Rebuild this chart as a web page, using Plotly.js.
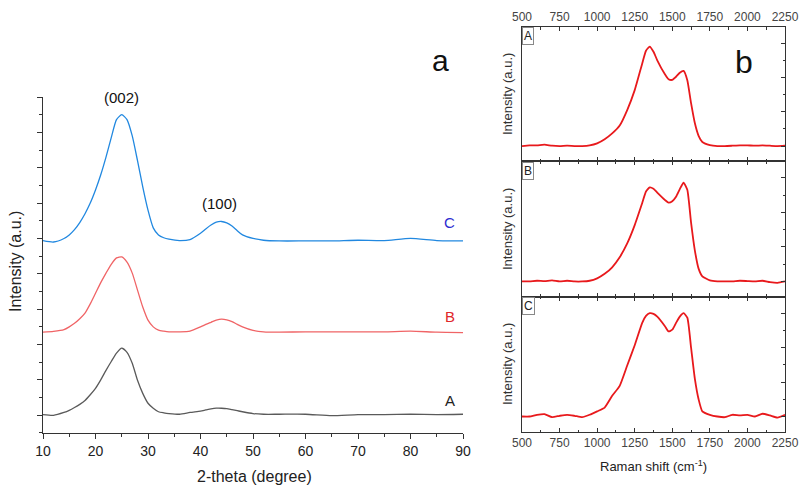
<!DOCTYPE html>
<html>
<head>
<meta charset="utf-8">
<script src="https://cdn.plot.ly/plotly-3.0.1.min.js"></script>
<style>
  html, body { margin: 0; padding: 0; background: #fff; }
  #chart { width: 800px; height: 486px; }
</style>
</head>
<body>
<div id="chart"></div>
<script>
// ----------------------- XRD data (panel a) -----------------------------------
var xrdX = [10, 12, 14, 15, 16, 17, 18, 19, 20, 21, 22, 23, 24, 25, 26, 27, 28, 29, 30,
  31, 32, 33, 34, 36, 38, 40, 41, 42, 43, 44, 45, 46, 47, 48, 50, 52, 55, 60, 65, 70,
  75, 80, 85, 90];
var xrdA = [0.02, 0.0, 0.08, 0.14, 0.22, 0.31, 0.42, 0.58, 0.76, 1.0, 1.27, 1.52, 1.76,
  1.9, 1.78, 1.47, 0.99, 0.62, 0.34, 0.2, 0.1, 0.07, 0.05, 0.03, 0.08, 0.12, 0.15, 0.18,
  0.2, 0.2, 0.19, 0.16, 0.13, 0.1, 0.05, 0.03, 0.03, 0.03, -0.01, 0.02, 0.02, 0.03, 0.02, 0.03];
var xrdB = [2.35, 2.37, 2.42, 2.5, 2.6, 2.73, 2.89, 3.15, 3.45, 3.75, 4.02, 4.27, 4.45,
  4.48, 4.33, 4.02, 3.54, 3.06, 2.69, 2.5, 2.41, 2.38, 2.36, 2.36, 2.38, 2.5, 2.57, 2.63,
  2.69, 2.72, 2.7, 2.65, 2.57, 2.5, 2.4, 2.36, 2.35, 2.36, 2.36, 2.36, 2.36, 2.38, 2.35, 2.34];
var xrdC = [4.94, 4.9, 5.0, 5.1, 5.25, 5.45, 5.7, 6.0, 6.37, 6.8, 7.3, 7.85, 8.36, 8.5,
  8.36, 7.9, 7.2, 6.46, 5.8, 5.3, 5.1, 5.02, 4.98, 4.94, 4.97, 5.15, 5.27, 5.38, 5.46,
  5.48, 5.44, 5.35, 5.22, 5.1, 5.0, 4.95, 4.93, 4.93, 4.93, 4.95, 4.94, 5.0, 4.94, 4.93];
var xrdTicks = [10, 20, 30, 40, 50, 60, 70, 80, 90];
// =============================================================================

// ----------------------- Raman data (panel b) ---------------------------------
var ramanX = [500, 550, 600, 650, 700, 750, 800, 850, 900, 950, 1000, 1050, 1100, 1150,
  1200, 1250, 1300, 1325, 1350, 1375, 1400, 1450, 1475, 1500, 1525, 1550, 1575, 1600,
  1625, 1650, 1675, 1700, 1750, 1800, 1850, 1900, 1950, 2000, 2050, 2100, 2150, 2200, 2250];
var ramanA = [0.0, 0.02, 0.02, 0.04, 0.01, 0.0, 0.01, 0.0, 0.0, 0.02, 0.08, 0.2, 0.37,
  0.6, 1.05, 1.63, 2.41, 2.78, 2.9, 2.75, 2.5, 2.1, 1.95, 1.93, 2.02, 2.14, 2.19, 1.92,
  1.25, 0.67, 0.3, 0.12, 0.03, 0.0, 0.0, 0.01, 0.02, 0.02, 0.01, 0.02, 0.01, 0.0, 0.01];
var ramanB = [0.0, 0.0, 0.02, 0.01, 0.03, 0.0, 0.02, 0.0, 0.0, 0.02, 0.09, 0.22, 0.41,
  0.7, 1.1, 1.63, 2.27, 2.6, 2.72, 2.68, 2.57, 2.36, 2.28, 2.32, 2.45, 2.67, 2.86, 2.65,
  1.7, 0.9, 0.37, 0.15, 0.03, 0.0, 0.0, 0.0, 0.02, 0.01, 0.0, 0.02, -0.02, -0.04, 0.0];
var ramanC = [0.0, 0.0, 0.05, 0.07, -0.02, 0.02, 0.05, 0.02, -0.02, 0.05, 0.15, 0.26, 0.6,
  0.89, 1.48, 2.07, 2.72, 2.92, 3.0, 2.98, 2.9, 2.63, 2.47, 2.52, 2.72, 2.9, 3.0, 2.87,
  2.0, 1.1, 0.5, 0.15, 0.05, 0.0, -0.02, 0.05, 0.03, 0.05, 0.0, 0.08, 0.03, -0.03, 0.05];
var ramanTicks = [500, 750, 1000, 1250, 1500, 1750, 2000, 2250];
var sampleNames = ["A", "B", "C"];
// =============================================================================

var FONT = "Arial, 'Liberation Sans', sans-serif";

function xrdTrace(y, color) {
  return {
    x: xrdX, y: y, xaxis: "x", yaxis: "y",
    mode: "lines",
    line: { color: color, width: 1.3, shape: "spline", smoothing: 0.6 },
    showlegend: false, hoverinfo: "none"
  };
}

function ramanTrace(y, n) {
  return {
    x: ramanX, y: y, xaxis: "x" + n, yaxis: "y" + n,
    mode: "lines",
    line: { color: "#e8191c", width: 1.8, shape: "spline", smoothing: 0.5 },
    showlegend: false, hoverinfo: "none"
  };
}

var data = [
  xrdTrace(xrdA, "#5a5a5a"),
  xrdTrace(xrdB, "#f06466"),
  xrdTrace(xrdC, "#2188e0"),
  ramanTrace(ramanA, 2),
  ramanTrace(ramanB, 3),
  ramanTrace(ramanC, 4)
];

// ----------------------- Right panel axes ------------------------------------
function ramanXAxis(anchor, side, labels) {
  return {
    domain: [0.6525, 0.98125], anchor: anchor, side: side,
    range: [500, 2250], tickvals: ramanTicks,
    showticklabels: labels,
    tickfont: { family: FONT, size: 12, color: "#444" },
    ticks: "inside", ticklen: 4, tickcolor: "#333",
    minor: { ticks: "inside", ticklen: 2.5, dtick: 125, tick0: 500, tickcolor: "#333" },
    showline: true, linecolor: "#333", linewidth: 1, mirror: "allticks",
    showgrid: false, zeroline: false
  };
}

function ramanYAxis(anchor, domain) {
  return {
    domain: domain, anchor: anchor, side: "right",
    range: [-0.45, 3.47], tickvals: [0, 1, 2, 3],
    showticklabels: false,
    ticks: "inside", ticklen: 4, tickcolor: "#333",
    minor: { ticks: "inside", ticklen: 2.5, dtick: 0.5, tick0: 0, tickcolor: "#333" },
    showline: true, linecolor: "#333", linewidth: 1, mirror: true,
    showgrid: false, zeroline: false
  };
}
// =============================================================================

// plain centred text helper
function label(text, x, y, xref, yref, size, color, angle) {
  return {
    text: text, x: x, y: y, xref: xref, yref: yref,
    xanchor: "center", yanchor: "middle", showarrow: false,
    textangle: angle || 0,
    font: { family: FONT, size: size, color: color }
  };
}

var annotations = [
  label("(002)", 25, 9.0, "x", "y", 15, "#111"),
  label("(100)", 43.7, 6.0, "x", "y", 15, "#111"),
  label("C", 87.5, 5.44, "x", "y", 15, "#2c2cd0"),
  label("B", 87.5, 2.78, "x", "y", 15, "#e0262a"),
  label("A", 87.5, 0.42, "x", "y", 15, "#222"),
  label("a", 440 / 800, 1 - 60 / 486, "paper", "paper", 30, "#111"),
  label("b", 744 / 800, 1 - 62 / 486, "paper", "paper", 32, "#111"),
  label("Intensity (a.u.)", 15 / 800, 1 - 262 / 486, "paper", "paper", 16, "#222", -90),
  label("2-theta (degree)", 255 / 800, 1 - 476 / 486, "paper", "paper", 16, "#222"),
  label("Raman shift (cm<sup>-1</sup>)", 653 / 800, 1 - 466 / 486, "paper", "paper", 13, "#222")
];

// sample labels and y titles for the three Raman panels
var panelTops = [27, 162, 297];
for (var i = 0; i < 3; i++) {
  annotations.push({
    text: sampleNames[i], x: 522 / 800, y: 1 - panelTops[i] / 486,
    xref: "paper", yref: "paper", xanchor: "left", yanchor: "top",
    showarrow: false, bordercolor: "#888", borderwidth: 1, borderpad: 1,
    bgcolor: "#fff", font: { family: FONT, size: 12, color: "#222" }
  });
  annotations.push(label("Intensity (a.u.)", 507 / 800, 1 - (panelTops[i] + 67) / 486,
    "paper", "paper", 13, "#333", -90));
}

var layout = {
  width: 800, height: 486,
  margin: { l: 0, r: 0, t: 0, b: 0 },
  paper_bgcolor: "#fff", plot_bgcolor: "rgba(0,0,0,0)",
  showlegend: false,
  xaxis: {
    domain: [0.05375, 0.57875], anchor: "y",
    range: [10, 90], tickvals: xrdTicks,
    tickfont: { family: FONT, size: 14, color: "#222" },
    ticks: "outside", ticklen: 5, tickcolor: "#333",
    minor: { ticks: "outside", ticklen: 3, dtick: 5, tick0: 10, tickcolor: "#333" },
    showline: true, linecolor: "#333", linewidth: 1,
    showgrid: false, zeroline: false
  },
  yaxis: {
    domain: [0.1091, 0.8004], anchor: "x",
    range: [-0.5, 9], tickvals: [0, 1, 2, 3, 4, 5, 6, 7, 8, 9],
    showticklabels: false,
    ticks: "outside", ticklen: 5, tickcolor: "#333",
    minor: { ticks: "outside", ticklen: 3, dtick: 0.5, tick0: 0, tickcolor: "#333" },
    showline: true, linecolor: "#333", linewidth: 1,
    showgrid: false, zeroline: false
  },
  xaxis2: ramanXAxis("y2", "top", true),
  yaxis2: ramanYAxis("x2", [0.6677, 0.9444]),
  xaxis3: ramanXAxis("y3", "bottom", false),
  yaxis3: ramanYAxis("x3", [0.3889, 0.6677]),
  xaxis4: ramanXAxis("y4", "bottom", true),
  yaxis4: ramanYAxis("x4", [0.1111, 0.3889]),
  annotations: annotations
};

Plotly.newPlot("chart", data, layout, { staticPlot: true, displayModeBar: false });
</script>
</body>
</html>
